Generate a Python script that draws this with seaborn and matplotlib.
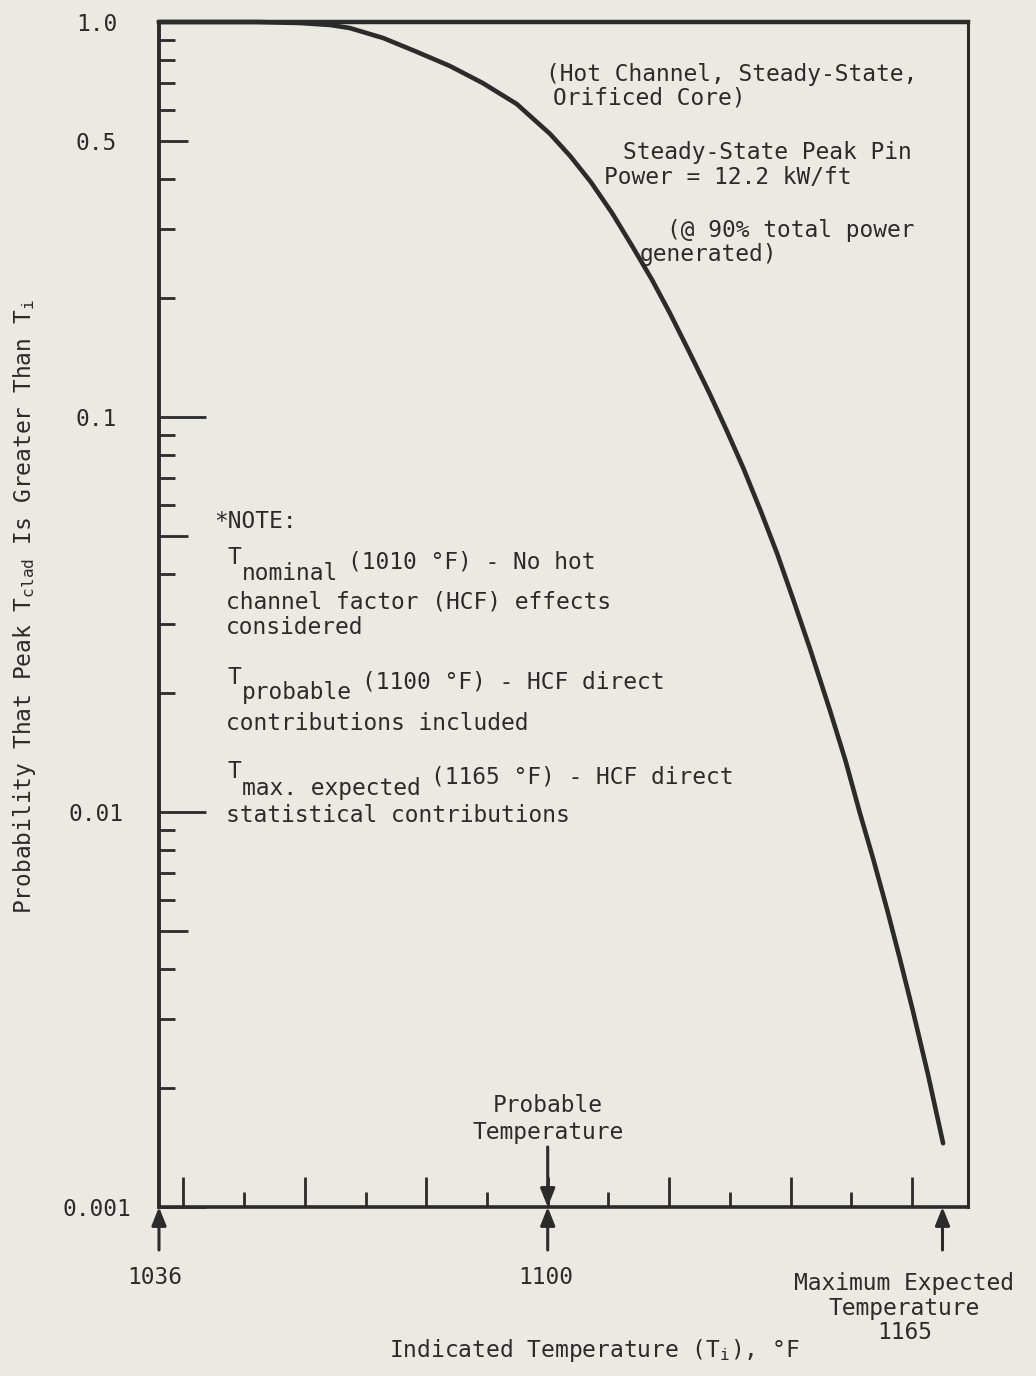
import matplotlib
matplotlib.use("Agg")
import matplotlib.pyplot as plt
import matplotlib.ticker as mticker
import pandas as pd
import seaborn as sns

# ---------------- data ----------------
temperature_f = [1036.0, 1052.0, 1059.2, 1064.2, 1067.4, 1072.9, 1078.5, 1083.9, 1089.3,
                 1094.9, 1100.4, 1103.7, 1107.1, 1110.6, 1114.0, 1117.2, 1120.1, 1123.4,
                 1126.7, 1129.5, 1132.2, 1135.0, 1137.8, 1140.4, 1143.2, 1146.5, 1149.0,
                 1151.4, 1153.6, 1155.9, 1158.0, 1160.1, 1162.6, 1165.1]
probability = [1.0, 1.0, 0.9942, 0.9827, 0.9656, 0.9110, 0.8396, 0.7737, 0.7006,
               0.6200, 0.5206, 0.4578, 0.3935, 0.3284, 0.2694, 0.2222, 0.1834, 0.1452,
               0.1143, 0.0922, 0.0743, 0.0582, 0.0450, 0.0346, 0.02586, 0.01802, 0.01354,
               0.00994, 0.00760, 0.00565, 0.00424, 0.00315, 0.00217, 0.00145]

x_major_ticks = [1040, 1060, 1080, 1100, 1120, 1140, 1160]
x_minor_ticks = [1050, 1070, 1090, 1110, 1130, 1150]
y_decade_ticks = [0.001, 0.01, 0.1, 1.0]
y_half_ticks = [0.005, 0.05, 0.5]
y_minor_ticks = [0.002, 0.003, 0.004, 0.006, 0.007, 0.008, 0.009,
                 0.02, 0.03, 0.04, 0.06, 0.07, 0.08, 0.09,
                 0.2, 0.3, 0.4, 0.6, 0.7, 0.8, 0.9]
y_tick_text = {1.0: "1.0", 0.5: "0.5", 0.1: "0.1", 0.01: "0.01", 0.001: "0.001"}
marked_temps = [1036, 1100, 1165]
marked_labels = ["1036", "1100", "Maximum Expected\nTemperature\n1165"]

# ---------------- style ----------------
BG = "#eaeae3"
INK = "#2b2b2b"
FS = 16.5
sns.set_style("ticks")
plt.rcParams["font.family"] = ["DejaVu Sans Mono", "DejaVu Sans"]
plt.rcParams["mathtext.fontset"] = "custom"
plt.rcParams["mathtext.rm"] = "DejaVu Sans Mono"
plt.rcParams["text.color"] = INK

W, H = 1036, 1376
fig = plt.figure(figsize=(W / 100, H / 100), dpi=100, facecolor=BG)
L, R, T, B = 159, 968, 22, 1207
ax = fig.add_axes([L / W, 1 - B / H, (R - L) / W, (B - T) / H])
ax.set_facecolor(BG)

df = pd.DataFrame({"T": temperature_f, "P": probability})
sns.lineplot(data=df, x="T", y="P", ax=ax, color=INK, lw=3.3,
             clip_on=False, legend=False, solid_joinstyle="round",
             solid_capstyle="round")

ax.set_yscale("log")
ax.set_xlim(1036, 1169.2)
ax.set_ylim(0.001, 1.0)

for side, lw in [("left", 2.8), ("right", 2.2), ("bottom", 2.6), ("top", 3.2)]:
    ax.spines[side].set_visible(True)
    ax.spines[side].set_linewidth(lw)
    ax.spines[side].set_color(INK)

# x ticks (inward, no labels)
ax.set_xticks(x_major_ticks)
ax.set_xticks(x_minor_ticks, minor=True)
ax.tick_params(axis="x", which="major", direction="in", length=21.5, width=2.0,
               bottom=True, top=False, labelbottom=False, color=INK)
ax.tick_params(axis="x", which="minor", direction="in", length=10.5, width=2.0,
               bottom=True, top=False, color=INK)

# y ticks
y_ticks_all = sorted(y_decade_ticks + y_half_ticks)
ax.set_yticks(y_ticks_all)
ax.set_yticklabels([y_tick_text.get(v, "") for v in y_ticks_all])
ax.set_yticks(y_minor_ticks, minor=True)
ax.yaxis.set_minor_formatter(mticker.NullFormatter())
ax.tick_params(axis="y", which="major", direction="in", length=34, width=2.0,
               left=True, right=False, pad=45, labelsize=FS, color=INK, labelcolor=INK)
ax.tick_params(axis="y", which="minor", direction="in", length=11.5, width=2.0,
               left=True, right=False, color=INK)
for tk, v in zip(ax.yaxis.get_major_ticks(), y_ticks_all):
    if v in y_half_ticks:
        tk.tick1line.set_markersize(21)
for lab in ax.get_yticklabels():
    lab.set_ha("center")

# axis labels
ax.set_ylabel(r"Probability That Peak T$_\mathregular{clad}$ Is Greater Than T$_\mathregular{i}$",
              fontsize=FS, color=INK, va="center")
ax.yaxis.set_label_coords((25 - L) / (R - L), (B - 607) / (B - T))
ax.set_xlabel(r"Indicated Temperature (T$_\mathregular{i}$), °F",
              fontsize=FS, color=INK, va="center")
ax.xaxis.set_label_coords((594 - L) / (R - L), (B - 1350) / (B - T))

# arrows under the axis and their labels
PT = 0.72  # points per pixel
arrow_kw = dict(arrowstyle="-|>,head_length=0.55,head_width=0.22", color=INK,
                lw=2.2, shrinkA=0, shrinkB=0, mutation_scale=20)
for t in marked_temps:
    ax.annotate("", xy=(t, 0.001), xytext=(0, -43 * PT), textcoords="offset points",
                arrowprops=arrow_kw, annotation_clip=False)
ax.annotate("", xy=(1100, 0.001), xytext=(0, 60 * PT), textcoords="offset points",
            arrowprops=arrow_kw, annotation_clip=False)

label_offsets = [(-4, -71), (-2, -71), (-38, -101)]
for t, s, (dx, dy) in zip(marked_temps, marked_labels, label_offsets):
    ax.annotate(s, xy=(t, 0.001), xytext=(dx * PT, dy * PT), textcoords="offset points",
                ha="center", va="center", fontsize=FS, color=INK, linespacing=1.1,
                annotation_clip=False)
ax.annotate("Probable\nTemperature", xy=(1100, 0.001), xytext=(0, 88 * PT),
            textcoords="offset points", ha="center", va="center", fontsize=FS,
            color=INK, linespacing=1.2, annotation_clip=False)


# ---------------- free text ----------------
def put(x, y, s, ha="left"):
    fig.text(x / W, 1 - y / H, s, ha=ha, va="center", fontsize=FS, color=INK)


put(732, 75, "(Hot Channel, Steady-State,", ha="center")
put(649, 98, "Orificed Core)", ha="center")
put(767, 152, "Steady-State Peak Pin", ha="center")
put(728, 178, "Power = 12.2 kW/ft", ha="center")
put(791, 230, "(@ 90% total power", ha="center")
put(708, 255, "generated)", ha="center")

ADV = 0.602 * FS * 100 / 72  # monospace advance in pixels
put(214, 521, "*NOTE:")


def t_item(y0, sub, rest):
    x0 = 228
    put(x0, y0, "T")
    put(x0 + ADV, y0 + 16, sub)
    put(x0 + ADV * (1 + len(sub)) + 0.7 * ADV, y0 + 5, rest)


t_item(557, "nominal", "(1010 °F) - No hot")
put(226, 602, "channel factor (HCF) effects")
put(226, 627, "considered")
t_item(677, "probable", "(1100 °F) - HCF direct")
put(226, 723, "contributions included")
t_item(772, "max. expected", "(1165 °F) - HCF direct")
put(226, 815, "statistical contributions")

fig.savefig("out.png", dpi=100, facecolor=BG)
